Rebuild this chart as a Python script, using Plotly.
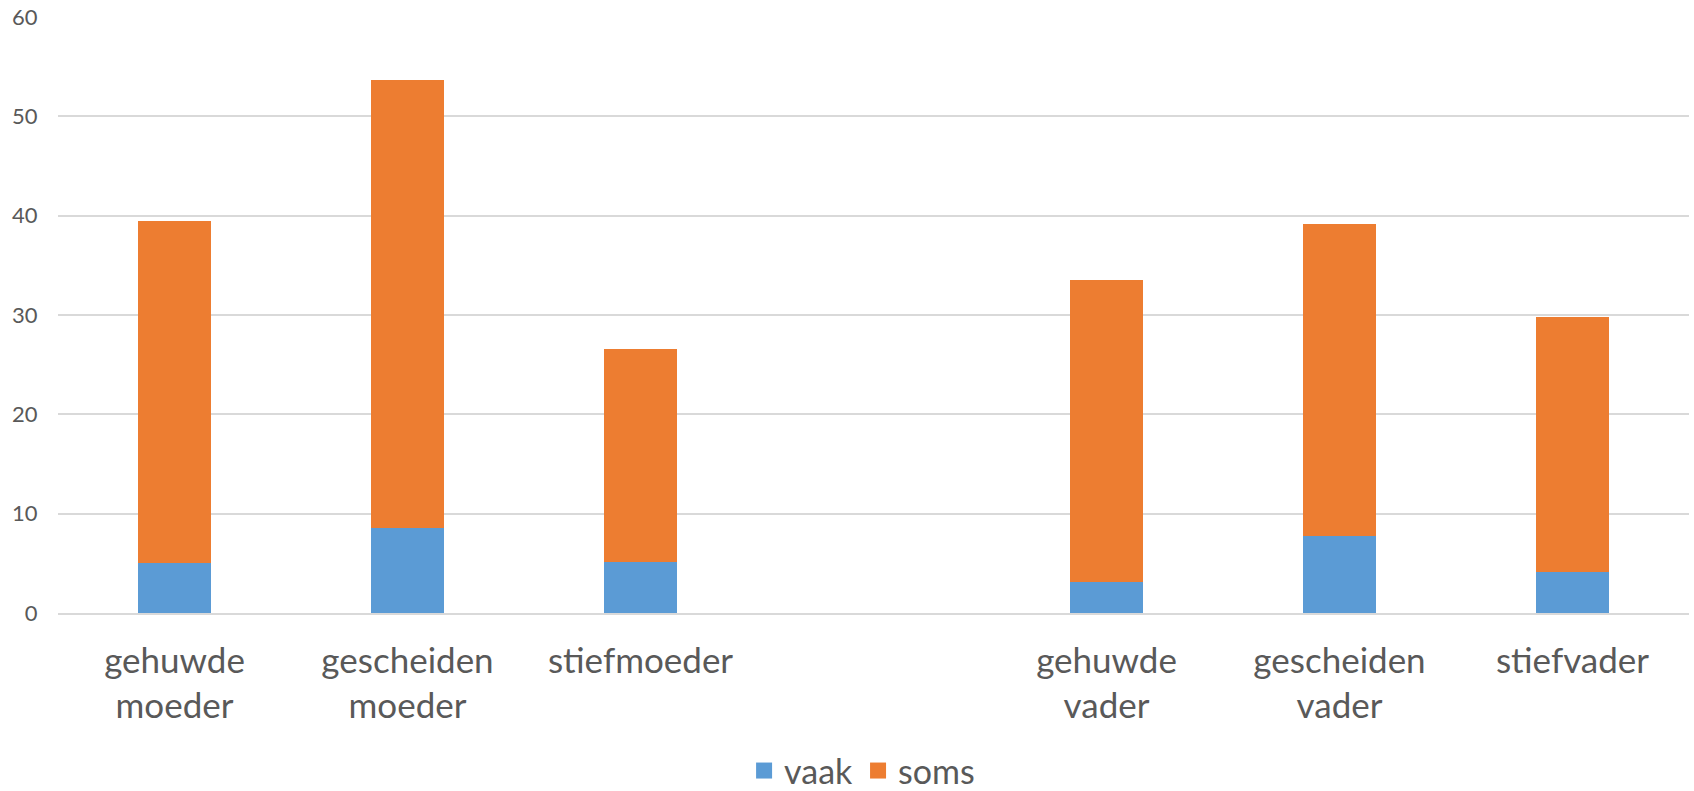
import plotly.graph_objects as go

categories = ["gehuwde<br>moeder", "gescheiden<br>moeder", "stiefmoeder", " ",
              "gehuwde<br>vader", "gescheiden<br>vader", "stiefvader"]
series_names = ["vaak", "soms"]
vaak = [5.0, 8.6, 5.1, None, 3.1, 7.8, 4.1]
soms = [34.5, 45.1, 21.5, None, 30.4, 31.4, 25.7]
y_ticks = [0, 10, 20, 30, 40, 50, 60]

FONT = "Lato"
GREY = "#595959"
COLORS = ["#5B9BD5", "#ED7D31"]

fig = go.Figure()
for name, vals, col in zip(series_names, [vaak, soms], COLORS):
    fig.add_trace(go.Bar(name=name, x=categories, y=vals, marker_color=col,
                         marker_line_width=0, showlegend=False, legendgroup=name))
for name, col in zip(series_names, COLORS):
    fig.add_trace(go.Scatter(name=name, x=[None], y=[None], mode="markers",
                             marker=dict(symbol="square", size=16, color=col),
                             legendgroup=name, showlegend=True))

fig.update_layout(
    barmode="stack",
    bargap=0.687,
    width=1694, height=791,
    margin=dict(l=58, r=5, t=17, b=178, autoexpand=False),
    paper_bgcolor="white", plot_bgcolor="white",
    font=dict(family=FONT, color=GREY),
    legend=dict(orientation="h", x=0.493, xanchor="center", y=-0.265, yanchor="middle",
                font=dict(size=34, family=FONT, color=GREY), traceorder="normal",
                itemwidth=30, itemsizing="trace"),
    showlegend=True,
)
fig.update_yaxes(range=[0, 60], tickvals=y_ticks, showgrid=True, gridcolor="#D9D9D9",
                 gridwidth=1.5, zeroline=False, showline=False, automargin=False,
                 ticks="outside", ticklen=15, tickcolor="rgba(0,0,0,0)",
                 tickfont=dict(size=22, family=FONT, color=GREY))
fig.update_xaxes(showgrid=False, showline=True, linecolor="#D9D9D9", linewidth=1.5,
                 automargin=False,
                 ticks="outside", ticklen=16, tickcolor="rgba(0,0,0,0)",
                 tickfont=dict(size=35, family=FONT, color=GREY))

fig.write_html("out.html", config={"displayModeBar": False},
               post_script="document.body.style.margin='0';")
